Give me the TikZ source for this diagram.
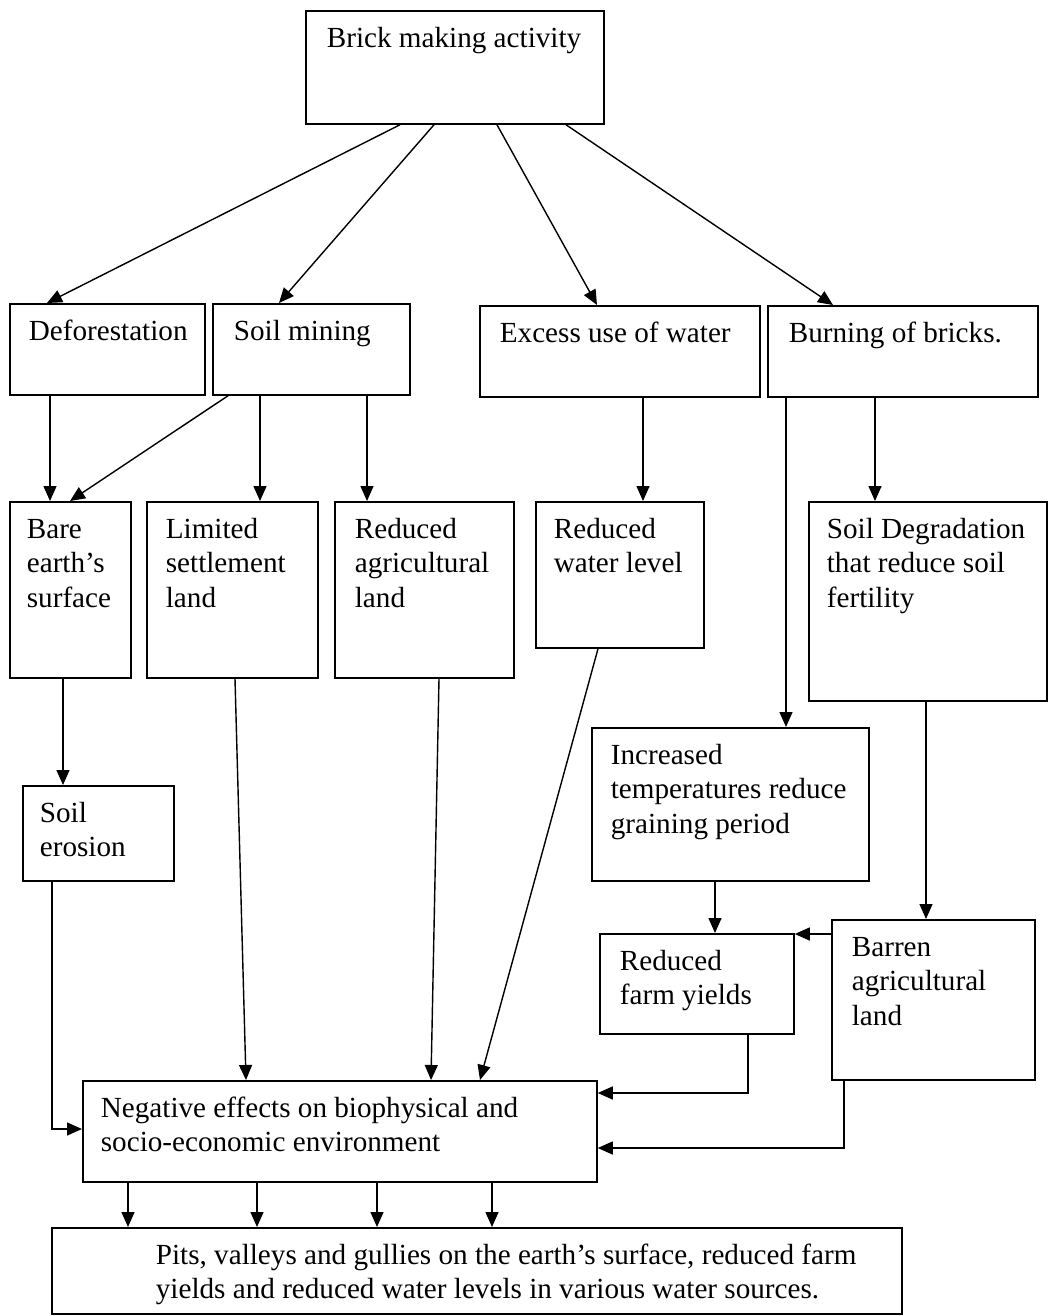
\documentclass[tikz,border=0pt]{standalone}
\usepackage{fontspec}
\setmainfont{Liberation Serif}
\usepackage{tikz}
\usetikzlibrary{arrows.meta,calc,positioning}
\newdimen\pxu
\pxu=0.02cm
\newcommand{\boxtxt}[4]{\parbox[t][#2\pxu][t]{#1\pxu}{\raggedright\leftskip=#3\pxu\rule{0pt}{37\pxu}#4}}
\tikzstyle{flowbox}=[draw,line width=1pt,inner sep=0pt,anchor=north west,font=\fontsize{16.6pt}{19.4pt}\selectfont]
\tikzstyle{flowarrow}=[line width=0.8pt,-{Triangle[length=0.3cm,width=0.26cm]}]

\begin{document}
\begin{tikzpicture}[x=0.02cm,y=-0.02cm]
\clip (0,0) rectangle (1048,1316);
\fill[white] (0,0) rectangle (1048,1316);
\node [flowbox] (brick) at (305,10) {\boxtxt{298}{113}{21}{Brick making activity}};
\node [flowbox] (defor) at (9,303) {\boxtxt{195}{91}{19}{Deforestation}};
\node [flowbox] (soilm) at (212,303) {\boxtxt{197}{91}{21}{Soil mining}};
\node [flowbox] (excess) at (479,305) {\boxtxt{280}{91}{20}{Excess use of water}};
\node [flowbox] (burn) at (767,305) {\boxtxt{270}{91}{21}{Burning of bricks.}};
\node [flowbox] (bare) at (9,501) {\boxtxt{121}{176}{17}{Bare\\earth's\\surface}};
\node [flowbox] (limited) at (146,501) {\boxtxt{171}{176}{19}{Limited\\settlement\\land}};
\node [flowbox] (redagr) at (334,501) {\boxtxt{179}{176}{20}{Reduced\\agricultural\\land}};
\node [flowbox] (redwat) at (535,501) {\boxtxt{168}{146}{18}{Reduced\\water level}};
\node [flowbox] (soildeg) at (808,501) {\boxtxt{238}{199}{18}{Soil Degradation\\that reduce soil\\fertility}};
\node [flowbox] (erosion) at (22,785) {\boxtxt{151}{95}{17}{Soil\\erosion}};
\node [flowbox] (incr) at (591,727) {\boxtxt{277}{153}{19}{Increased\\temperatures reduce\\graining period}};
\node [flowbox] (redfarm) at (599,933) {\boxtxt{194}{100}{20}{Reduced\\farm yields}};
\node [flowbox] (barren) at (831,919) {\boxtxt{203}{160}{20}{Barren\\agricultural\\land}};
\node [flowbox] (neg) at (82,1080) {\boxtxt{514}{101}{18}{Negative effects on biophysical and\\socio-economic environment}};
\node [flowbox] (pits) at (51,1227) {\boxtxt{850}{86}{104}{Pits, valleys and gullies on the earth's surface, reduced farm\\yields and reduced water levels in various water sources.}};

\draw[flowarrow] (400,0 |- brick.south) -- (47,0 |- defor.north);
\draw[flowarrow] (434,0 |- brick.south) -- (279,0 |- soilm.north);
\draw[flowarrow] (497,0 |- brick.south) -- (597,0 |- excess.north);
\draw[flowarrow] (566,0 |- brick.south) -- (833,0 |- burn.north);
\draw[flowarrow] (50,0 |- defor.south) -- (50,0 |- bare.north);
\draw[flowarrow] (228,0 |- soilm.south) -- (70,0 |- bare.north);
\draw[flowarrow] (260,0 |- soilm.south) -- (260,0 |- limited.north);
\draw[flowarrow] (367,0 |- soilm.south) -- (367,0 |- redagr.north);
\draw[flowarrow] (643,0 |- excess.south) -- (643,0 |- redwat.north);
\draw[flowarrow] (875,0 |- burn.south) -- (875,0 |- soildeg.north);
\draw[flowarrow] (786,0 |- burn.south) -- (786,0 |- incr.north);
\draw[flowarrow] (63,0 |- bare.south) -- (63,0 |- erosion.north);
\draw[flowarrow] (52,0 |- erosion.south) |- (neg.west |- 0,1129);
\draw[flowarrow] (235,0 |- limited.south) -- (246,0 |- neg.north);
\draw[flowarrow] (439,0 |- redagr.south) -- (431,0 |- neg.north);
\draw[flowarrow] (598,0 |- redwat.south) -- (480,0 |- neg.north);
\draw[flowarrow] (715,0 |- incr.south) -- (715,0 |- redfarm.north);
\draw[flowarrow] (926,0 |- soildeg.south) -- (926,0 |- barren.north);
\draw[flowarrow] (barren.west |- 0,934) -- (redfarm.east |- 0,934);
\draw[flowarrow] (748,0 |- redfarm.south) |- (neg.east |- 0,1093);
\draw[flowarrow] (844,0 |- barren.south) |- (neg.east |- 0,1148);
\foreach \xx in {128,257,377,492}
  \draw[flowarrow] (\xx,0 |- neg.south) -- (\xx,0 |- pits.north);
\end{tikzpicture}
\end{document}
